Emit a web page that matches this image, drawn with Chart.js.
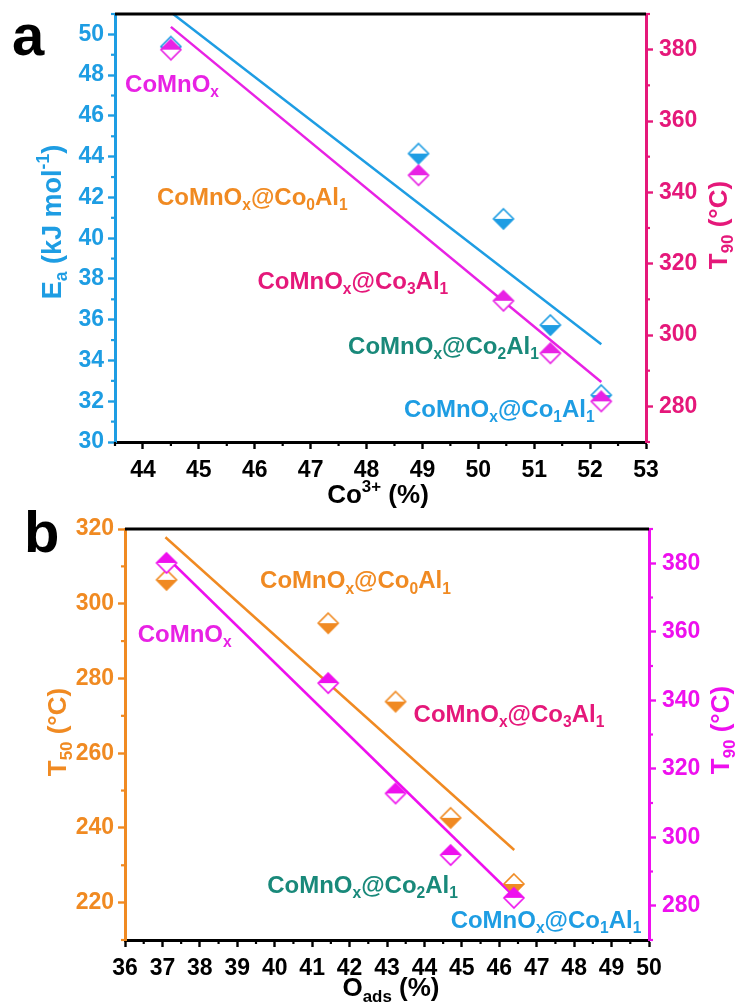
<!DOCTYPE html>
<html><head><meta charset="utf-8">
<script src="https://cdn.jsdelivr.net/npm/chart.js@4.4.0/dist/chart.umd.min.js"></script>
<style>
html,body{margin:0;padding:0;background:#fff;}
body{position:relative;width:739px;height:1005px;overflow:hidden;}
canvas{display:block;position:absolute;left:0;}
#c1{top:0;}
#c2{top:500px;}
</style></head>
<body>
<canvas id="c1" width="739" height="512"></canvas>
<canvas id="c2" width="739" height="505"></canvas>
<script>
// ---------- DATA ----------
// Panel a
const co3Plus = [44.5, 48.93, 50.45, 51.29, 52.2];
const eaValues = [49.4, 44.15, 40.95, 35.74, 32.3];
const t90ValuesA = [380, 344.8, 309.6, 294.9, 281.4];
const eaFitX = [44.54, 52.2];
const eaFitY = [51.0, 34.8];
const t90FitAX = [44.5, 52.2];
const t90FitAY = [386.4, 286.8];
const xTicksA = [44, 45, 46, 47, 48, 49, 50, 51, 52, 53];
const eaTicks = [30, 32, 34, 36, 38, 40, 42, 44, 46, 48, 50];
const t90TicksA = [280, 300, 320, 340, 360, 380];
// Panel b
const oAds = [37.11, 41.43, 43.23, 44.7, 46.39];
const t50Values = [306.4, 294.8, 273.8, 242.7, 225.0];
const t90ValuesB = [380.1, 345.0, 312.8, 294.8, 282.3];
const t50FitX = [37.08, 46.4];
const t50FitY = [317.8, 234.1];
const t90FitBX = [37.1, 46.4];
const t90FitBY = [381.9, 282.7];
const xTicksB = [36, 37, 38, 39, 40, 41, 42, 43, 44, 45, 46, 47, 48, 49, 50];
const t50Ticks = [220, 240, 260, 280, 300, 320];
const t90TicksB = [280, 300, 320, 340, 360, 380];
// Sample labels
const sampleNames = ['CoMnOx', 'CoMnOx@Co0Al1', 'CoMnOx@Co3Al1', 'CoMnOx@Co2Al1', 'CoMnOx@Co1Al1'];
const labelPosA = [[43.68, 47.6], [44.25, 42.06], [46.05, 37.94], [47.67, 34.75], [48.67, 31.67]];
const labelPosB = [[36.34, 292.1], [39.61, 306.4], [43.71, 270.6], [39.8, 224.9], [44.7, 215.5]];

// ---------- STYLE ----------
const BLUE = '#1E9DE3';
const ORANGE = '#F08A22';
const MAGENTA = '#E822E4';
const PINK = '#E5187A';
const TEAL = '#19897A';
const MAG2 = '#EE10EE';
const FONT = '"Liberation Sans", Arial, Helvetica, sans-serif';
const labelColors = [MAGENTA, ORANGE, PINK, TEAL, BLUE];

function pts(xs, ys) { return xs.map((x, i) => ({ x, y: ys[i] })); }

function halfDiamond(color, filledTop, r) {
  const s = 2 * r + 4;
  const c = document.createElement('canvas');
  c.width = s; c.height = s;
  const g = c.getContext('2d');
  const cx = s / 2, cy = s / 2;
  const dia = () => { g.beginPath(); g.moveTo(cx, cy - r); g.lineTo(cx + r, cy); g.lineTo(cx, cy + r); g.lineTo(cx - r, cy); g.closePath(); };
  dia(); g.fillStyle = '#fff'; g.fill();
  g.beginPath();
  g.moveTo(cx - r, cy);
  g.lineTo(cx, filledTop ? cy - r : cy + r);
  g.lineTo(cx + r, cy);
  g.closePath();
  g.fillStyle = color; g.fill();
  dia(); g.strokeStyle = color; g.lineWidth = 1.6; g.stroke();
  return c;
}

// rich text: parts = [[text, 'n'|'sub'|'sup'], ...]
function richWidth(ctx, parts, size) {
  let w = 0;
  for (const [t, k] of parts) {
    const fs = k === 'n' ? size : size * 0.65;
    ctx.font = 'bold ' + fs + 'px ' + FONT;
    w += ctx.measureText(t).width;
  }
  return w;
}
function drawRich(ctx, parts, x, y, size, color, align, rot) {
  ctx.save();
  ctx.translate(x, y);
  if (rot) ctx.rotate(-Math.PI / 2);
  const w = richWidth(ctx, parts, size);
  let cx = align === 'center' ? -w / 2 : 0;
  ctx.fillStyle = color;
  ctx.textBaseline = 'alphabetic';
  ctx.textAlign = 'left';
  const base = size * 0.36;
  for (const [t, k] of parts) {
    const fs = k === 'n' ? size : size * 0.65;
    ctx.font = 'bold ' + fs + 'px ' + FONT;
    let dy = base;
    if (k === 'sub') dy = base + size * 0.22;
    if (k === 'sup') dy = base - size * 0.42;
    ctx.fillText(t, cx, dy);
    cx += ctx.measureText(t).width;
  }
  ctx.restore();
}
function sampleParts(name) {
  const m = name.match(/^CoMnOx(@Co(\d)Al(\d))?$/);
  const p = [['CoMnO', 'n'], ['x', 'sub']];
  if (m[1]) p.push(['@Co', 'n'], [m[2], 'sub'], ['Al', 'n'], [m[3], 'sub']);
  return p;
}

function minorTicks(chart, scaleId, major, color, len) {
  const s = chart.scales[scaleId];
  const ctx = chart.ctx;
  const vals = [];
  for (let i = 0; i < major.length - 1; i++) vals.push((major[i] + major[i + 1]) / 2);
  const step = major[1] - major[0];
  vals.push(major[0] - step / 2, major[major.length - 1] + step / 2);
  ctx.save();
  ctx.strokeStyle = color; ctx.lineWidth = 2.2;
  for (const v of vals) {
    if (v < s.min || v > s.max) continue;
    const p = s.getPixelForValue(v);
    ctx.beginPath();
    if (s.axis === 'x') { ctx.moveTo(p, s.top); ctx.lineTo(p, s.top + len); }
    else if (s.position === 'left') { ctx.moveTo(s.right, p); ctx.lineTo(s.right - len, p); }
    else { ctx.moveTo(s.left, p); ctx.lineTo(s.left + len, p); }
    ctx.stroke();
  }
  ctx.restore();
}

function makeScale(opts) {
  const { min, max, ticks, color, position, size, axis, pad } = opts;
  return {
    type: 'linear', position, min, max,
    afterBuildTicks: (s) => { s.ticks = ticks.map(v => ({ value: v })); },
    afterFit: (s) => {
      if (axis === 'x') { s.height = size; s.paddingLeft = 0; s.paddingRight = 0; }
      else { s.width = size; s.paddingTop = 0; s.paddingBottom = 0; }
    },
    grid: { display: true, drawOnChartArea: false, drawTicks: true, tickLength: 7, tickWidth: 2.4, tickColor: color, color: color },
    border: { display: true, color, width: 3 },
    ticks: { color, font: { family: FONT, size: 23, weight: 'bold' }, padding: pad, autoSkip: false, maxRotation: 0, callback: v => String(v) },
    title: { display: false }
  };
}

function buildChart(id, cfg) {
  const deco = {
    id: 'deco',
    afterDraw(chart) {
      const ctx = chart.ctx, a = chart.chartArea;
      ctx.save();
      ctx.strokeStyle = '#000'; ctx.lineWidth = 3;
      ctx.beginPath(); ctx.moveTo(a.left, a.top); ctx.lineTo(a.right, a.top); ctx.stroke();
      ctx.restore();
      minorTicks(chart, 'x', cfg.xTicks, '#000', 4);
      minorTicks(chart, 'y', cfg.yTicks, cfg.yColor, 4);
      minorTicks(chart, 'y1', cfg.y1Ticks, cfg.y1Color, 4);
      // sample labels
      cfg.labelPos.forEach((p, i) => {
        const x = chart.scales.x.getPixelForValue(p[0]);
        const y = chart.scales.y.getPixelForValue(p[1]);
        drawRich(ctx, sampleParts(sampleNames[i]), x, y, 24, labelColors[i], 'left', false);
      });
      // titles
      for (const t of cfg.titles) drawRich(ctx, t.parts, t.x, t.y, t.size, t.color, 'center', t.rot);
      ctx.save();
      ctx.fillStyle = '#000';
      ctx.font = 'bold 58px ' + FONT;
      ctx.textBaseline = 'alphabetic';
      ctx.fillText(cfg.letter, cfg.letterX, cfg.letterY);
      ctx.restore();
    }
  };
  return new Chart(document.getElementById(id), {
    type: 'scatter',
    data: { datasets: cfg.datasets },
    options: {
      responsive: false, animation: false, devicePixelRatio: 1,
      layout: { autoPadding: false, padding: { top: cfg.top, left: 0, right: 0, bottom: 0 } },
      plugins: { legend: { display: false }, tooltip: { enabled: false } },
      scales: cfg.scales
    },
    plugins: [deco]
  });
}

// ---------- Panel a ----------
buildChart('c1', {
  letter: 'a', letterX: 12, letterY: 55, top: 14,
  xTicks: xTicksA, yTicks: eaTicks, y1Ticks: t90TicksA, yColor: BLUE, y1Color: PINK,
  labelPos: labelPosA,
  datasets: [
    { type: 'line', data: pts(eaFitX, eaFitY), yAxisID: 'y', borderColor: BLUE, borderWidth: 2.5, pointRadius: 0, order: 3 },
    { type: 'line', data: pts(t90FitAX, t90FitAY), yAxisID: 'y1', borderColor: MAGENTA, borderWidth: 2.5, pointRadius: 0, order: 2 },
    { data: pts(co3Plus, eaValues), yAxisID: 'y', pointStyle: halfDiamond(BLUE, false, 10), order: 1 },
    { data: pts(co3Plus, t90ValuesA), yAxisID: 'y1', pointStyle: halfDiamond(MAGENTA, true, 10), order: 0 }
  ],
  scales: {
    x: makeScale({ min: 43.5, max: 53, ticks: xTicksA, color: '#000', position: 'bottom', size: 70, axis: 'x', pad: 8 }),
    y: makeScale({ min: 30, max: 51, ticks: eaTicks, color: BLUE, position: 'left', size: 115, axis: 'y', pad: 4 }),
    y1: makeScale({ min: 270, max: 390, ticks: t90TicksA, color: PINK, position: 'right', size: 93, axis: 'y', pad: 6 })
  },
  titles: [
    { parts: [['E', 'n'], ['a', 'sub'], [' (kJ mol', 'n'], ['-1', 'sup'], [')', 'n']], x: 51, y: 222, size: 27, color: BLUE, rot: true },
    { parts: [['T', 'n'], ['90', 'sub'], [' (°C)', 'n']], x: 718, y: 225, size: 26, color: PINK, rot: true },
    { parts: [['Co', 'n'], ['3+', 'sup'], [' (%)', 'n']], x: 378, y: 494, size: 26, color: '#000', rot: false }
  ]
});

// ---------- Panel b ----------
buildChart('c2', {
  letter: 'b', letterX: 24, letterY: 52, top: 29,
  xTicks: xTicksB, yTicks: t50Ticks, y1Ticks: t90TicksB, yColor: ORANGE, y1Color: MAG2,
  labelPos: labelPosB,
  datasets: [
    { type: 'line', data: pts(t50FitX, t50FitY), yAxisID: 'y', borderColor: ORANGE, borderWidth: 2.5, pointRadius: 0, order: 3 },
    { type: 'line', data: pts(t90FitBX, t90FitBY), yAxisID: 'y1', borderColor: MAG2, borderWidth: 2.5, pointRadius: 0, order: 2 },
    { data: pts(oAds, t50Values), yAxisID: 'y', pointStyle: halfDiamond(ORANGE, false, 10), order: 1 },
    { data: pts(oAds, t90ValuesB), yAxisID: 'y1', pointStyle: halfDiamond(MAG2, true, 10), order: 0 }
  ],
  scales: {
    x: makeScale({ min: 36, max: 50, ticks: xTicksB, color: '#000', position: 'bottom', size: 65, axis: 'x', pad: 8 }),
    y: makeScale({ min: 210, max: 320, ticks: t50Ticks, color: ORANGE, position: 'left', size: 125, axis: 'y', pad: 4 }),
    y1: makeScale({ min: 270, max: 390, ticks: t90TicksB, color: MAG2, position: 'right', size: 90, axis: 'y', pad: 6 })
  },
  titles: [
    { parts: [['T', 'n'], ['50', 'sub'], [' (°C)', 'n']], x: 57, y: 232, size: 26, color: ORANGE, rot: true },
    { parts: [['T', 'n'], ['90', 'sub'], [' (°C)', 'n']], x: 720, y: 230, size: 26, color: MAG2, rot: true },
    { parts: [['O', 'n'], ['ads', 'sub'], [' (%)', 'n']], x: 391, y: 487, size: 26, color: '#000', rot: false }
  ]
});
</script>
</body></html>
